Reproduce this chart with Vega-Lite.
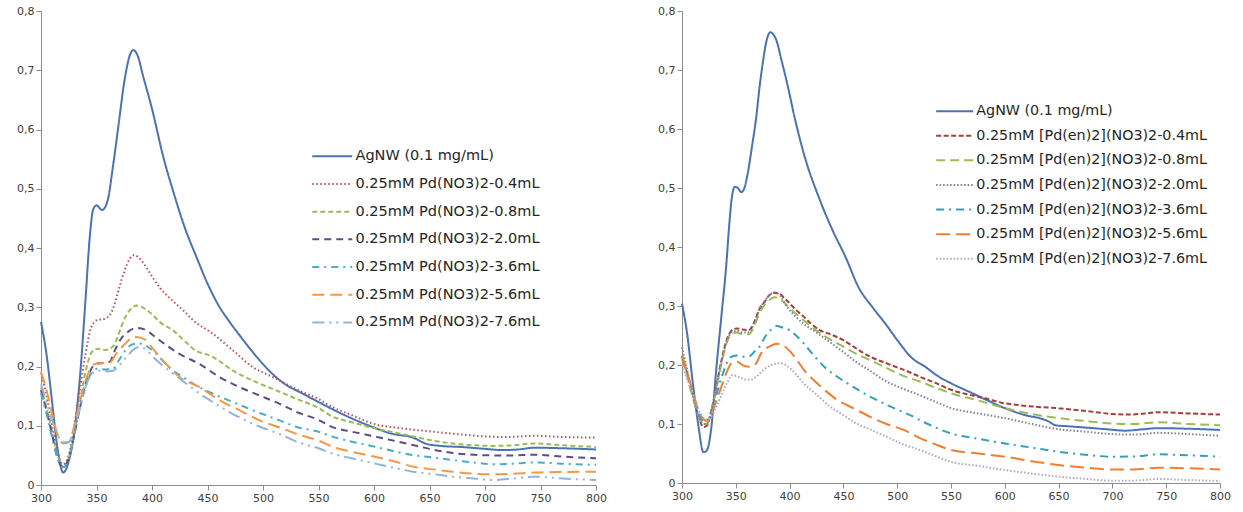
{
  "$schema": "https://vega.github.io/schema/vega-lite/v6.json",
  "background": "white",
  "padding": {"left": 16, "top": 5, "right": 5, "bottom": 5},
  "bounds": "flush",
  "spacing": 86,
  "config": {
    "view": {"stroke": null},
    "font": "DejaVu Sans",
    "axis": {"grid": false, "domainColor": "#8c8c8c", "tickColor": "#8c8c8c", "tickSize": 5, "labelColor": "#404040", "labelFontSize": 11, "labelFont": "DejaVu Sans", "labelFlush": false, "title": null},
    "legend": {"labelFont": "DejaVu Sans", "labelColor": "#262626", "symbolType": "M0,0H10", "symbolSize": 64, "symbolStrokeWidth": 2, "labelLimit": 500, "padding": 0, "title": null}
  },
  "datasets": {
    "leftNames": [
      {"k": "A", "name": "AgNW (0.1 mg/mL)"},
      {"k": "a", "name": "0.25mM Pd(NO3)2-0.4mL"},
      {"k": "b", "name": "0.25mM Pd(NO3)2-0.8mL"},
      {"k": "c", "name": "0.25mM Pd(NO3)2-2.0mL"},
      {"k": "d", "name": "0.25mM Pd(NO3)2-3.6mL"},
      {"k": "e", "name": "0.25mM Pd(NO3)2-5.6mL"},
      {"k": "f", "name": "0.25mM Pd(NO3)2-7.6mL"}
    ],
    "rightNames": [
      {"k": "A", "name": "AgNW (0.1 mg/mL)"},
      {"k": "a", "name": "0.25mM [Pd(en)2](NO3)2-0.4mL"},
      {"k": "b", "name": "0.25mM [Pd(en)2](NO3)2-0.8mL"},
      {"k": "c", "name": "0.25mM [Pd(en)2](NO3)2-2.0mL"},
      {"k": "d", "name": "0.25mM [Pd(en)2](NO3)2-3.6mL"},
      {"k": "e", "name": "0.25mM [Pd(en)2](NO3)2-5.6mL"},
      {"k": "f", "name": "0.25mM [Pd(en)2](NO3)2-7.6mL"}
    ],
    "left": [
      {"k":"A","x":300,"y":0.275},{"k":"A","x":305,"y":0.22},{"k":"A","x":310,"y":0.14},{"k":"A","x":315,"y":0.06},{"k":"A","x":320,"y":0.021},{"k":"A","x":325,"y":0.04},{"k":"A","x":330,"y":0.09},{"k":"A","x":335,"y":0.18},{"k":"A","x":340,"y":0.31},{"k":"A","x":344,"y":0.42},{"k":"A","x":347,"y":0.465},{"k":"A","x":350,"y":0.472},{"k":"A","x":355,"y":0.464},{"k":"A","x":360,"y":0.48},{"k":"A","x":365,"y":0.54},{"k":"A","x":370,"y":0.61},{"k":"A","x":375,"y":0.68},{"k":"A","x":380,"y":0.725},{"k":"A","x":383,"y":0.734},{"k":"A","x":387,"y":0.725},{"k":"A","x":392,"y":0.69},{"k":"A","x":400,"y":0.635},{"k":"A","x":410,"y":0.555},{"k":"A","x":420,"y":0.49},{"k":"A","x":430,"y":0.432},{"k":"A","x":440,"y":0.385},{"k":"A","x":450,"y":0.34},{"k":"A","x":460,"y":0.303},{"k":"A","x":470,"y":0.275},{"k":"A","x":480,"y":0.25},{"k":"A","x":490,"y":0.226},{"k":"A","x":500,"y":0.204},{"k":"A","x":510,"y":0.185},{"k":"A","x":520,"y":0.17},{"k":"A","x":535,"y":0.155},{"k":"A","x":550,"y":0.14},{"k":"A","x":570,"y":0.121},{"k":"A","x":600,"y":0.097},{"k":"A","x":615,"y":0.087},{"k":"A","x":635,"y":0.08},{"k":"A","x":648,"y":0.069},{"k":"A","x":660,"y":0.066},{"k":"A","x":680,"y":0.064},{"k":"A","x":700,"y":0.061},{"k":"A","x":715,"y":0.059},{"k":"A","x":730,"y":0.06},{"k":"A","x":745,"y":0.063},{"k":"A","x":770,"y":0.062},{"k":"A","x":800,"y":0.06},
      {"k":"a","x":300,"y":0.19},{"k":"a","x":305,"y":0.15},{"k":"a","x":310,"y":0.1},{"k":"a","x":315,"y":0.055},{"k":"a","x":320,"y":0.035},{"k":"a","x":325,"y":0.05},{"k":"a","x":330,"y":0.1},{"k":"a","x":335,"y":0.16},{"k":"a","x":340,"y":0.22},{"k":"a","x":345,"y":0.265},{"k":"a","x":350,"y":0.278},{"k":"a","x":358,"y":0.281},{"k":"a","x":365,"y":0.298},{"k":"a","x":370,"y":0.33},{"k":"a","x":375,"y":0.36},{"k":"a","x":380,"y":0.382},{"k":"a","x":384,"y":0.388},{"k":"a","x":390,"y":0.38},{"k":"a","x":395,"y":0.367},{"k":"a","x":400,"y":0.352},{"k":"a","x":407,"y":0.333},{"k":"a","x":418,"y":0.312},{"k":"a","x":428,"y":0.295},{"k":"a","x":437,"y":0.278},{"k":"a","x":455,"y":0.255},{"k":"a","x":473,"y":0.227},{"k":"a","x":490,"y":0.2},{"k":"a","x":509,"y":0.182},{"k":"a","x":533,"y":0.159},{"k":"a","x":550,"y":0.145},{"k":"a","x":562,"y":0.132},{"k":"a","x":580,"y":0.118},{"k":"a","x":600,"y":0.103},{"k":"a","x":623,"y":0.096},{"k":"a","x":653,"y":0.09},{"k":"a","x":680,"y":0.085},{"k":"a","x":700,"y":0.082},{"k":"a","x":720,"y":0.081},{"k":"a","x":745,"y":0.083},{"k":"a","x":770,"y":0.081},{"k":"a","x":800,"y":0.08},
      {"k":"b","x":300,"y":0.165},{"k":"b","x":305,"y":0.13},{"k":"b","x":310,"y":0.09},{"k":"b","x":315,"y":0.05},{"k":"b","x":320,"y":0.03},{"k":"b","x":325,"y":0.045},{"k":"b","x":330,"y":0.09},{"k":"b","x":335,"y":0.14},{"k":"b","x":340,"y":0.19},{"k":"b","x":345,"y":0.222},{"k":"b","x":350,"y":0.23},{"k":"b","x":358,"y":0.228},{"k":"b","x":365,"y":0.234},{"k":"b","x":370,"y":0.255},{"k":"b","x":375,"y":0.28},{"k":"b","x":380,"y":0.295},{"k":"b","x":386,"y":0.303},{"k":"b","x":394,"y":0.297},{"k":"b","x":400,"y":0.288},{"k":"b","x":407,"y":0.275},{"k":"b","x":419,"y":0.261},{"k":"b","x":430,"y":0.242},{"k":"b","x":437,"y":0.23},{"k":"b","x":455,"y":0.216},{"k":"b","x":473,"y":0.193},{"k":"b","x":491,"y":0.176},{"k":"b","x":509,"y":0.162},{"k":"b","x":532,"y":0.144},{"k":"b","x":550,"y":0.13},{"k":"b","x":562,"y":0.116},{"k":"b","x":580,"y":0.106},{"k":"b","x":600,"y":0.096},{"k":"b","x":620,"y":0.088},{"k":"b","x":635,"y":0.082},{"k":"b","x":650,"y":0.076},{"k":"b","x":671,"y":0.07},{"k":"b","x":690,"y":0.067},{"k":"b","x":708,"y":0.066},{"k":"b","x":725,"y":0.067},{"k":"b","x":744,"y":0.07},{"k":"b","x":770,"y":0.067},{"k":"b","x":800,"y":0.064},
      {"k":"c","x":300,"y":0.16},{"k":"c","x":305,"y":0.125},{"k":"c","x":310,"y":0.085},{"k":"c","x":315,"y":0.045},{"k":"c","x":320,"y":0.03},{"k":"c","x":325,"y":0.045},{"k":"c","x":330,"y":0.085},{"k":"c","x":335,"y":0.13},{"k":"c","x":340,"y":0.17},{"k":"c","x":345,"y":0.195},{"k":"c","x":350,"y":0.205},{"k":"c","x":357,"y":0.206},{"k":"c","x":362,"y":0.208},{"k":"c","x":366,"y":0.225},{"k":"c","x":371,"y":0.244},{"k":"c","x":378,"y":0.258},{"k":"c","x":386,"y":0.265},{"k":"c","x":395,"y":0.261},{"k":"c","x":400,"y":0.254},{"k":"c","x":407,"y":0.244},{"k":"c","x":425,"y":0.221},{"k":"c","x":443,"y":0.204},{"k":"c","x":461,"y":0.182},{"k":"c","x":479,"y":0.165},{"k":"c","x":497,"y":0.151},{"k":"c","x":515,"y":0.137},{"k":"c","x":532,"y":0.122},{"k":"c","x":550,"y":0.11},{"k":"c","x":562,"y":0.098},{"k":"c","x":580,"y":0.09},{"k":"c","x":600,"y":0.082},{"k":"c","x":615,"y":0.076},{"k":"c","x":635,"y":0.0675},{"k":"c","x":650,"y":0.061},{"k":"c","x":671,"y":0.054},{"k":"c","x":690,"y":0.051},{"k":"c","x":708,"y":0.05},{"k":"c","x":725,"y":0.05},{"k":"c","x":744,"y":0.051},{"k":"c","x":770,"y":0.048},{"k":"c","x":800,"y":0.045},
      {"k":"d","x":300,"y":0.155},{"k":"d","x":305,"y":0.12},{"k":"d","x":310,"y":0.08},{"k":"d","x":315,"y":0.045},{"k":"d","x":320,"y":0.03},{"k":"d","x":325,"y":0.045},{"k":"d","x":330,"y":0.085},{"k":"d","x":335,"y":0.13},{"k":"d","x":340,"y":0.165},{"k":"d","x":345,"y":0.188},{"k":"d","x":350,"y":0.196},{"k":"d","x":358,"y":0.195},{"k":"d","x":365,"y":0.196},{"k":"d","x":370,"y":0.21},{"k":"d","x":374,"y":0.222},{"k":"d","x":380,"y":0.235},{"k":"d","x":387,"y":0.239},{"k":"d","x":392,"y":0.238},{"k":"d","x":397,"y":0.232},{"k":"d","x":404,"y":0.221},{"k":"d","x":412,"y":0.205},{"k":"d","x":419,"y":0.193},{"k":"d","x":428,"y":0.182},{"k":"d","x":437,"y":0.171},{"k":"d","x":455,"y":0.154},{"k":"d","x":473,"y":0.14},{"k":"d","x":491,"y":0.126},{"k":"d","x":515,"y":0.109},{"k":"d","x":532,"y":0.097},{"k":"d","x":550,"y":0.09},{"k":"d","x":562,"y":0.082},{"k":"d","x":580,"y":0.073},{"k":"d","x":600,"y":0.065},{"k":"d","x":618,"y":0.057},{"k":"d","x":635,"y":0.0506},{"k":"d","x":655,"y":0.046},{"k":"d","x":671,"y":0.042},{"k":"d","x":690,"y":0.038},{"k":"d","x":708,"y":0.035},{"k":"d","x":725,"y":0.036},{"k":"d","x":744,"y":0.038},{"k":"d","x":770,"y":0.036},{"k":"d","x":800,"y":0.034},
      {"k":"e","x":300,"y":0.19},{"k":"e","x":305,"y":0.16},{"k":"e","x":310,"y":0.12},{"k":"e","x":315,"y":0.085},{"k":"e","x":320,"y":0.07},{"k":"e","x":325,"y":0.072},{"k":"e","x":330,"y":0.1},{"k":"e","x":335,"y":0.14},{"k":"e","x":340,"y":0.175},{"k":"e","x":345,"y":0.198},{"k":"e","x":350,"y":0.205},{"k":"e","x":357,"y":0.206},{"k":"e","x":362,"y":0.207},{"k":"e","x":368,"y":0.222},{"k":"e","x":374,"y":0.235},{"k":"e","x":380,"y":0.246},{"k":"e","x":386,"y":0.25},{"k":"e","x":393,"y":0.246},{"k":"e","x":400,"y":0.232},{"k":"e","x":407,"y":0.216},{"k":"e","x":416,"y":0.198},{"k":"e","x":425,"y":0.182},{"k":"e","x":443,"y":0.165},{"k":"e","x":461,"y":0.143},{"k":"e","x":479,"y":0.126},{"k":"e","x":497,"y":0.109},{"k":"e","x":515,"y":0.097},{"k":"e","x":532,"y":0.085},{"k":"e","x":550,"y":0.075},{"k":"e","x":562,"y":0.065},{"k":"e","x":580,"y":0.056},{"k":"e","x":600,"y":0.048},{"k":"e","x":618,"y":0.04},{"k":"e","x":635,"y":0.031},{"k":"e","x":655,"y":0.026},{"k":"e","x":671,"y":0.0225},{"k":"e","x":690,"y":0.019},{"k":"e","x":708,"y":0.018},{"k":"e","x":725,"y":0.019},{"k":"e","x":744,"y":0.021},{"k":"e","x":770,"y":0.022},{"k":"e","x":800,"y":0.0225},
      {"k":"f","x":300,"y":0.17},{"k":"f","x":305,"y":0.14},{"k":"f","x":310,"y":0.11},{"k":"f","x":315,"y":0.085},{"k":"f","x":320,"y":0.072},{"k":"f","x":325,"y":0.073},{"k":"f","x":330,"y":0.095},{"k":"f","x":335,"y":0.13},{"k":"f","x":340,"y":0.165},{"k":"f","x":345,"y":0.185},{"k":"f","x":350,"y":0.193},{"k":"f","x":358,"y":0.192},{"k":"f","x":365,"y":0.193},{"k":"f","x":371,"y":0.203},{"k":"f","x":377,"y":0.216},{"k":"f","x":383,"y":0.228},{"k":"f","x":389,"y":0.233},{"k":"f","x":395,"y":0.228},{"k":"f","x":401,"y":0.216},{"k":"f","x":410,"y":0.201},{"k":"f","x":419,"y":0.188},{"k":"f","x":431,"y":0.171},{"k":"f","x":443,"y":0.154},{"k":"f","x":455,"y":0.14},{"k":"f","x":467,"y":0.126},{"k":"f","x":479,"y":0.114},{"k":"f","x":491,"y":0.103},{"k":"f","x":515,"y":0.086},{"k":"f","x":532,"y":0.072},{"k":"f","x":550,"y":0.062},{"k":"f","x":562,"y":0.0535},{"k":"f","x":580,"y":0.045},{"k":"f","x":600,"y":0.0366},{"k":"f","x":618,"y":0.029},{"k":"f","x":635,"y":0.0225},{"k":"f","x":655,"y":0.018},{"k":"f","x":671,"y":0.014},{"k":"f","x":690,"y":0.011},{"k":"f","x":708,"y":0.0084},{"k":"f","x":725,"y":0.011},{"k":"f","x":744,"y":0.014},{"k":"f","x":770,"y":0.011},{"k":"f","x":800,"y":0.0084}
    ],
    "right": [
      {"k":"A","x":300,"y":0.304},{"k":"A","x":305,"y":0.25},{"k":"A","x":310,"y":0.17},{"k":"A","x":315,"y":0.1},{"k":"A","x":320,"y":0.052},{"k":"A","x":323,"y":0.055},{"k":"A","x":327,"y":0.09},{"k":"A","x":332,"y":0.196},{"k":"A","x":337,"y":0.29},{"k":"A","x":341,"y":0.366},{"k":"A","x":344,"y":0.44},{"k":"A","x":346,"y":0.479},{"k":"A","x":349,"y":0.502},{"k":"A","x":352,"y":0.5},{"k":"A","x":355,"y":0.493},{"k":"A","x":358,"y":0.5},{"k":"A","x":361,"y":0.524},{"k":"A","x":365,"y":0.57},{"k":"A","x":369,"y":0.62},{"k":"A","x":372,"y":0.67},{"k":"A","x":375,"y":0.711},{"k":"A","x":378,"y":0.745},{"k":"A","x":382,"y":0.764},{"k":"A","x":385,"y":0.76},{"k":"A","x":388,"y":0.749},{"k":"A","x":392,"y":0.72},{"k":"A","x":397,"y":0.683},{"k":"A","x":406,"y":0.609},{"k":"A","x":415,"y":0.547},{"k":"A","x":427,"y":0.485},{"k":"A","x":440,"y":0.428},{"k":"A","x":452,"y":0.383},{"k":"A","x":464,"y":0.332},{"k":"A","x":477,"y":0.298},{"k":"A","x":489,"y":0.27},{"k":"A","x":501,"y":0.24},{"k":"A","x":513,"y":0.213},{"k":"A","x":526,"y":0.197},{"k":"A","x":538,"y":0.181},{"k":"A","x":550,"y":0.169},{"k":"A","x":570,"y":0.152},{"k":"A","x":585,"y":0.139},{"k":"A","x":600,"y":0.127},{"k":"A","x":619,"y":0.115},{"k":"A","x":634,"y":0.109},{"k":"A","x":640,"y":0.105},{"k":"A","x":647,"y":0.098},{"k":"A","x":660,"y":0.096},{"k":"A","x":675,"y":0.094},{"k":"A","x":695,"y":0.091},{"k":"A","x":712,"y":0.0887},{"k":"A","x":728,"y":0.091},{"k":"A","x":743,"y":0.093},{"k":"A","x":770,"y":0.092},{"k":"A","x":800,"y":0.09},
      {"k":"a","x":300,"y":0.215},{"k":"a","x":305,"y":0.185},{"k":"a","x":310,"y":0.15},{"k":"a","x":315,"y":0.115},{"k":"a","x":320,"y":0.095},{"k":"a","x":323,"y":0.097},{"k":"a","x":327,"y":0.12},{"k":"a","x":332,"y":0.165},{"k":"a","x":337,"y":0.21},{"k":"a","x":342,"y":0.245},{"k":"a","x":346,"y":0.258},{"k":"a","x":351,"y":0.262},{"k":"a","x":356,"y":0.26},{"k":"a","x":362,"y":0.259},{"k":"a","x":368,"y":0.276},{"k":"a","x":372,"y":0.295},{"k":"a","x":376,"y":0.305},{"k":"a","x":381,"y":0.318},{"k":"a","x":385,"y":0.3226},{"k":"a","x":390,"y":0.321},{"k":"a","x":397,"y":0.31},{"k":"a","x":405,"y":0.295},{"k":"a","x":413,"y":0.282},{"k":"a","x":420,"y":0.27},{"k":"a","x":428,"y":0.259},{"k":"a","x":438,"y":0.252},{"k":"a","x":450,"y":0.242},{"k":"a","x":462,"y":0.228},{"k":"a","x":475,"y":0.214},{"k":"a","x":487,"y":0.205},{"k":"a","x":500,"y":0.196},{"k":"a","x":510,"y":0.189},{"k":"a","x":521,"y":0.18},{"k":"a","x":535,"y":0.17},{"k":"a","x":550,"y":0.158},{"k":"a","x":566,"y":0.15},{"k":"a","x":582,"y":0.1435},{"k":"a","x":597,"y":0.136},{"k":"a","x":613,"y":0.132},{"k":"a","x":630,"y":0.129},{"k":"a","x":650,"y":0.1266},{"k":"a","x":670,"y":0.123},{"k":"a","x":685,"y":0.12},{"k":"a","x":699,"y":0.117},{"k":"a","x":718,"y":0.116},{"k":"a","x":730,"y":0.118},{"k":"a","x":743,"y":0.12},{"k":"a","x":770,"y":0.118},{"k":"a","x":800,"y":0.116},
      {"k":"b","x":300,"y":0.21},{"k":"b","x":305,"y":0.18},{"k":"b","x":310,"y":0.145},{"k":"b","x":315,"y":0.115},{"k":"b","x":320,"y":0.1},{"k":"b","x":323,"y":0.1},{"k":"b","x":327,"y":0.12},{"k":"b","x":332,"y":0.16},{"k":"b","x":337,"y":0.205},{"k":"b","x":342,"y":0.24},{"k":"b","x":346,"y":0.252},{"k":"b","x":351,"y":0.255},{"k":"b","x":356,"y":0.252},{"k":"b","x":362,"y":0.252},{"k":"b","x":368,"y":0.27},{"k":"b","x":372,"y":0.288},{"k":"b","x":376,"y":0.3},{"k":"b","x":381,"y":0.31},{"k":"b","x":386,"y":0.315},{"k":"b","x":391,"y":0.312},{"k":"b","x":397,"y":0.302},{"k":"b","x":405,"y":0.288},{"k":"b","x":413,"y":0.276},{"k":"b","x":425,"y":0.258},{"k":"b","x":438,"y":0.243},{"k":"b","x":450,"y":0.231},{"k":"b","x":462,"y":0.219},{"k":"b","x":475,"y":0.208},{"k":"b","x":490,"y":0.195},{"k":"b","x":501,"y":0.185},{"k":"b","x":521,"y":0.172},{"k":"b","x":535,"y":0.162},{"k":"b","x":550,"y":0.152},{"k":"b","x":575,"y":0.14},{"k":"b","x":600,"y":0.127},{"k":"b","x":625,"y":0.117},{"k":"b","x":650,"y":0.11},{"k":"b","x":675,"y":0.105},{"k":"b","x":699,"y":0.101},{"k":"b","x":720,"y":0.1},{"k":"b","x":743,"y":0.103},{"k":"b","x":770,"y":0.1},{"k":"b","x":800,"y":0.098},
      {"k":"c","x":300,"y":0.23},{"k":"c","x":305,"y":0.19},{"k":"c","x":310,"y":0.15},{"k":"c","x":315,"y":0.115},{"k":"c","x":320,"y":0.1},{"k":"c","x":323,"y":0.1},{"k":"c","x":327,"y":0.12},{"k":"c","x":332,"y":0.165},{"k":"c","x":337,"y":0.21},{"k":"c","x":342,"y":0.243},{"k":"c","x":346,"y":0.255},{"k":"c","x":351,"y":0.258},{"k":"c","x":356,"y":0.255},{"k":"c","x":362,"y":0.256},{"k":"c","x":368,"y":0.275},{"k":"c","x":372,"y":0.295},{"k":"c","x":376,"y":0.306},{"k":"c","x":381,"y":0.318},{"k":"c","x":386,"y":0.323},{"k":"c","x":391,"y":0.318},{"k":"c","x":397,"y":0.3},{"k":"c","x":405,"y":0.283},{"k":"c","x":413,"y":0.27},{"k":"c","x":425,"y":0.255},{"k":"c","x":438,"y":0.238},{"k":"c","x":450,"y":0.222},{"k":"c","x":462,"y":0.205},{"k":"c","x":475,"y":0.19},{"k":"c","x":490,"y":0.172},{"k":"c","x":505,"y":0.16},{"k":"c","x":521,"y":0.149},{"k":"c","x":535,"y":0.138},{"k":"c","x":550,"y":0.127},{"k":"c","x":575,"y":0.118},{"k":"c","x":600,"y":0.11},{"k":"c","x":625,"y":0.1},{"k":"c","x":650,"y":0.091},{"k":"c","x":675,"y":0.087},{"k":"c","x":699,"y":0.083},{"k":"c","x":720,"y":0.082},{"k":"c","x":743,"y":0.085},{"k":"c","x":770,"y":0.083},{"k":"c","x":800,"y":0.08},
      {"k":"d","x":300,"y":0.215},{"k":"d","x":305,"y":0.185},{"k":"d","x":310,"y":0.15},{"k":"d","x":315,"y":0.12},{"k":"d","x":320,"y":0.105},{"k":"d","x":323,"y":0.105},{"k":"d","x":327,"y":0.12},{"k":"d","x":332,"y":0.15},{"k":"d","x":337,"y":0.18},{"k":"d","x":342,"y":0.205},{"k":"d","x":346,"y":0.214},{"k":"d","x":352,"y":0.216},{"k":"d","x":358,"y":0.214},{"k":"d","x":363,"y":0.215},{"k":"d","x":368,"y":0.224},{"k":"d","x":372,"y":0.231},{"k":"d","x":378,"y":0.25},{"k":"d","x":383,"y":0.26},{"k":"d","x":388,"y":0.266},{"k":"d","x":394,"y":0.263},{"k":"d","x":400,"y":0.259},{"k":"d","x":406,"y":0.25},{"k":"d","x":413,"y":0.237},{"k":"d","x":423,"y":0.215},{"k":"d","x":434,"y":0.194},{"k":"d","x":446,"y":0.178},{"k":"d","x":459,"y":0.163},{"k":"d","x":471,"y":0.15},{"k":"d","x":484,"y":0.138},{"k":"d","x":498,"y":0.126},{"k":"d","x":512,"y":0.115},{"k":"d","x":525,"y":0.103},{"k":"d","x":537,"y":0.093},{"k":"d","x":550,"y":0.084},{"k":"d","x":575,"y":0.075},{"k":"d","x":600,"y":0.067},{"k":"d","x":625,"y":0.06},{"k":"d","x":650,"y":0.053},{"k":"d","x":675,"y":0.048},{"k":"d","x":699,"y":0.0446},{"k":"d","x":720,"y":0.045},{"k":"d","x":743,"y":0.0486},{"k":"d","x":770,"y":0.047},{"k":"d","x":800,"y":0.0446},
      {"k":"e","x":300,"y":0.215},{"k":"e","x":305,"y":0.185},{"k":"e","x":310,"y":0.155},{"k":"e","x":315,"y":0.125},{"k":"e","x":320,"y":0.108},{"k":"e","x":323,"y":0.105},{"k":"e","x":327,"y":0.115},{"k":"e","x":332,"y":0.14},{"k":"e","x":337,"y":0.165},{"k":"e","x":342,"y":0.19},{"k":"e","x":346,"y":0.203},{"k":"e","x":351,"y":0.206},{"k":"e","x":357,"y":0.199},{"k":"e","x":363,"y":0.197},{"k":"e","x":369,"y":0.203},{"k":"e","x":373,"y":0.218},{"k":"e","x":376,"y":0.225},{"k":"e","x":382,"y":0.232},{"k":"e","x":388,"y":0.236},{"k":"e","x":393,"y":0.234},{"k":"e","x":400,"y":0.224},{"k":"e","x":407,"y":0.208},{"k":"e","x":414,"y":0.19},{"k":"e","x":422,"y":0.175},{"k":"e","x":433,"y":0.157},{"k":"e","x":444,"y":0.141},{"k":"e","x":459,"y":0.127},{"k":"e","x":475,"y":0.112},{"k":"e","x":490,"y":0.1},{"k":"e","x":506,"y":0.09},{"k":"e","x":520,"y":0.077},{"k":"e","x":535,"y":0.066},{"k":"e","x":550,"y":0.056},{"k":"e","x":575,"y":0.05},{"k":"e","x":600,"y":0.0446},{"k":"e","x":625,"y":0.037},{"k":"e","x":650,"y":0.0305},{"k":"e","x":675,"y":0.026},{"k":"e","x":699,"y":0.023},{"k":"e","x":720,"y":0.023},{"k":"e","x":743,"y":0.026},{"k":"e","x":770,"y":0.025},{"k":"e","x":800,"y":0.023},
      {"k":"f","x":300,"y":0.2},{"k":"f","x":305,"y":0.175},{"k":"f","x":310,"y":0.15},{"k":"f","x":315,"y":0.125},{"k":"f","x":320,"y":0.11},{"k":"f","x":323,"y":0.108},{"k":"f","x":327,"y":0.112},{"k":"f","x":332,"y":0.13},{"k":"f","x":337,"y":0.15},{"k":"f","x":342,"y":0.17},{"k":"f","x":347,"y":0.183},{"k":"f","x":352,"y":0.18},{"k":"f","x":358,"y":0.176},{"k":"f","x":364,"y":0.175},{"k":"f","x":370,"y":0.182},{"k":"f","x":376,"y":0.192},{"k":"f","x":383,"y":0.2},{"k":"f","x":391,"y":0.203},{"k":"f","x":398,"y":0.198},{"k":"f","x":405,"y":0.186},{"k":"f","x":413,"y":0.169},{"k":"f","x":425,"y":0.15},{"k":"f","x":438,"y":0.129},{"k":"f","x":450,"y":0.115},{"k":"f","x":462,"y":0.101},{"k":"f","x":476,"y":0.09},{"k":"f","x":490,"y":0.0785},{"k":"f","x":505,"y":0.066},{"k":"f","x":521,"y":0.056},{"k":"f","x":535,"y":0.046},{"k":"f","x":550,"y":0.036},{"k":"f","x":575,"y":0.029},{"k":"f","x":600,"y":0.022},{"k":"f","x":625,"y":0.016},{"k":"f","x":650,"y":0.0107},{"k":"f","x":675,"y":0.007},{"k":"f","x":699,"y":0.004},{"k":"f","x":720,"y":0.004},{"k":"f","x":743,"y":0.0068},{"k":"f","x":770,"y":0.005},{"k":"f","x":800,"y":0.0034}
    ]
  },
  "resolve": {"scale": {"color": "independent", "strokeDash": "independent"}, "legend": {"color": "independent", "strokeDash": "independent"}},
  "hconcat": [
    {
      "width": 555,
      "height": 474,
      "data": {"name": "left"},
      "transform": [{"lookup": "k", "from": {"data": {"name": "leftNames"}, "key": "k", "fields": ["name"]}}],
      "mark": {"type": "line", "interpolate": "monotone", "strokeWidth": 2},
      "encoding": {
        "x": {"field": "x", "type": "quantitative", "scale": {"domain": [300, 800], "nice": false, "zero": false}, "axis": {"values": [300,350,400,450,500,550,600,650,700,750,800]}},
        "y": {"field": "y", "type": "quantitative", "scale": {"domain": [0, 0.8], "nice": false}, "axis": {"values": [0,0.1,0.2,0.3,0.4,0.5,0.6,0.7,0.8], "labelExpr": "datum.value == 0 ? '0' : replace(format(datum.value, '.1f'), '.', ',')"}},
        "color": {"field": "name", "type": "nominal", "scale": {"domain": ["AgNW (0.1 mg/mL)","0.25mM Pd(NO3)2-0.4mL","0.25mM Pd(NO3)2-0.8mL","0.25mM Pd(NO3)2-2.0mL","0.25mM Pd(NO3)2-3.6mL","0.25mM Pd(NO3)2-5.6mL","0.25mM Pd(NO3)2-7.6mL"], "range": ["#4a72b5","#c0504d","#9bbb59","#5f4b8b","#4bacc6","#f79646","#95b3d7"]}, "legend": {"orient": "none", "legendX": 264, "legendY": 138, "labelFontSize": 14.5, "rowPadding": 12.7, "labelOffset": 36}},
        "strokeDash": {"field": "name", "type": "nominal", "scale": {"domain": ["AgNW (0.1 mg/mL)","0.25mM Pd(NO3)2-0.4mL","0.25mM Pd(NO3)2-0.8mL","0.25mM Pd(NO3)2-2.0mL","0.25mM Pd(NO3)2-3.6mL","0.25mM Pd(NO3)2-5.6mL","0.25mM Pd(NO3)2-7.6mL"], "range": [[1,0],[1.5,2.5],[5,3],[7,5],[7,5,2,5],[12,6],[12,5,2,5,2,5]]}, "legend": {"orient": "none", "legendX": 264, "legendY": 138, "labelFontSize": 14.5, "rowPadding": 12.7, "labelOffset": 36}}
      }
    },
    {
      "width": 538,
      "height": 472,
      "data": {"name": "right"},
      "transform": [{"lookup": "k", "from": {"data": {"name": "rightNames"}, "key": "k", "fields": ["name"]}}],
      "mark": {"type": "line", "interpolate": "monotone", "strokeWidth": 2},
      "encoding": {
        "x": {"field": "x", "type": "quantitative", "scale": {"domain": [300, 800], "nice": false, "zero": false}, "axis": {"values": [300,350,400,450,500,550,600,650,700,750,800]}},
        "y": {"field": "y", "type": "quantitative", "scale": {"domain": [0, 0.8], "nice": false}, "axis": {"values": [0,0.1,0.2,0.3,0.4,0.5,0.6,0.7,0.8], "labelExpr": "datum.value == 0 ? '0' : replace(format(datum.value, '.1f'), '.', ',')"}},
        "color": {"field": "name", "type": "nominal", "scale": {"domain": ["AgNW (0.1 mg/mL)","0.25mM [Pd(en)2](NO3)2-0.4mL","0.25mM [Pd(en)2](NO3)2-0.8mL","0.25mM [Pd(en)2](NO3)2-2.0mL","0.25mM [Pd(en)2](NO3)2-3.6mL","0.25mM [Pd(en)2](NO3)2-5.6mL","0.25mM [Pd(en)2](NO3)2-7.6mL"], "range": ["#4a72b5","#a93d3a","#9bbb59","#7f7fa0","#31a0b8","#f08030","#a6a6d9"]}, "legend": {"orient": "none", "legendX": 247, "legendY": 93, "labelFontSize": 14.3, "rowPadding": 9.6, "labelOffset": 33, "symbolType": "M0,0H9.25"}},
        "strokeDash": {"field": "name", "type": "nominal", "scale": {"domain": ["AgNW (0.1 mg/mL)","0.25mM [Pd(en)2](NO3)2-0.4mL","0.25mM [Pd(en)2](NO3)2-0.8mL","0.25mM [Pd(en)2](NO3)2-2.0mL","0.25mM [Pd(en)2](NO3)2-3.6mL","0.25mM [Pd(en)2](NO3)2-5.6mL","0.25mM [Pd(en)2](NO3)2-7.6mL"], "range": [[1,0],[5,2.5],[9,5],[1.5,2],[8,5,2,5],[14,6],[1.5,2]]}, "legend": {"orient": "none", "legendX": 247, "legendY": 93, "labelFontSize": 14.3, "rowPadding": 9.6, "labelOffset": 33, "symbolType": "M0,0H9.25"}}
      }
    }
  ]
}
